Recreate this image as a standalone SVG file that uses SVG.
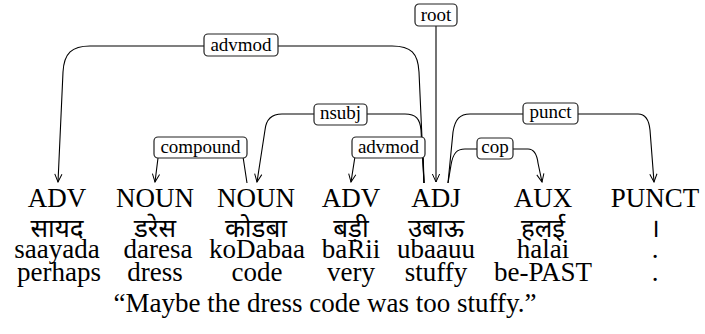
<svg xmlns="http://www.w3.org/2000/svg" width="705" height="334" viewBox="0 0 705 334">
  <defs>
    <marker id="arr" markerWidth="10" markerHeight="10" viewBox="-9 -5 10 10" refX="0" refY="0" orient="auto" markerUnits="userSpaceOnUse">
      <path d="M-8,-3.6 L0,0 L-8,3.6" fill="none" stroke="#000" stroke-width="1"/>
    </marker>
  </defs>
  <style>
    .w { font-family: "Liberation Serif", "Times New Roman", serif; font-size: 27px; fill: #000; text-anchor: middle; }
    .dev { font-family: "Noto Sans Devanagari", "Lohit Devanagari", "FreeSans", "Noto Sans", sans-serif; font-size: 26px; fill: #000; text-anchor: middle; }
    .lbl { font-family: "Liberation Serif", "Times New Roman", serif; font-size: 19px; fill: #000; text-anchor: middle; }
    .box { fill: #fff; stroke: #222; stroke-width: 1.2; }
    .edge { fill: none; stroke: #000; stroke-width: 1.1; marker-end: url(#arr); }
  </style>
  <rect width="705" height="334" fill="#fff"/>

  <!-- dependency arcs with their relation labels -->
  <g id="connectors">
    <path class="edge" d="M424,183 L419,72 C418,53 411,46 392,46 L90,46 C72,46 64,53 63,72 L58,182"/>
    <path class="edge" d="M424,183 L421,130 C420,119 416,114 405,114 L282,114 C271,114 266,120 265,130 L257,182"/>
    <path class="edge" d="M424,183 L423,150 L356,150 L351,182"/>
    <path class="edge" d="M247,183 L242,150 L159,150 L155,182"/>
    <path class="edge" d="M448,183 L451,165 C453,153 457,149 465,149 L528,149 C534,149 537,155 538,163 L542,182"/>
    <path class="edge" d="M448,183 L453,132 C455,119 460,114 470,114 L638,114 C646,114 649,120 650,130 L654,182"/>
    <path class="edge" d="M436,26 L436,182"/>

    <g id="lbl-root"><rect class="box" x="415" y="4" width="42" height="22" rx="4"/><text class="lbl" x="436" y="21">root</text></g>
    <g id="lbl-advmod1"><rect class="box" x="204" y="34" width="74" height="22" rx="4"/><text class="lbl" x="241" y="51">advmod</text></g>
    <g id="lbl-nsubj"><rect class="box" x="314" y="104" width="53" height="21" rx="4"/><text class="lbl" x="340.5" y="119">nsubj</text></g>
    <g id="lbl-punct"><rect class="box" x="523" y="103" width="55" height="21" rx="4"/><text class="lbl" x="550.5" y="118">punct</text></g>
    <g id="lbl-compound"><rect class="box" x="154" y="137" width="93" height="21" rx="4"/><text class="lbl" x="200.5" y="153">compound</text></g>
    <g id="lbl-advmod2"><rect class="box" x="352" y="137" width="73" height="21" rx="4"/><text class="lbl" x="388.5" y="153">advmod</text></g>
    <g id="lbl-cop"><rect class="box" x="477" y="138" width="36" height="21" rx="4"/><text class="lbl" x="495" y="153">cop</text></g>
  </g>

  <!-- tokens: POS tag, Devanagari form, transliteration, gloss -->
  <g id="tok1"><text class="w" x="57" y="207">ADV</text><text class="dev" x="57" y="237">सायद</text><text class="w" x="57" y="258">saayada</text><text class="w" x="59" y="281">perhaps</text></g>
  <g id="tok2"><text class="w" x="155" y="207">NOUN</text><text class="dev" x="155" y="237">डरेस</text><text class="w" x="158" y="258">daresa</text><text class="w" x="155" y="281">dress</text></g>
  <g id="tok3"><text class="w" x="256" y="207">NOUN</text><text class="dev" x="256" y="237">कोडबा</text><text class="w" x="257" y="258">koDabaa</text><text class="w" x="257" y="281">code</text></g>
  <g id="tok4"><text class="w" x="351" y="207">ADV</text><text class="dev" x="351" y="237">बड़ी</text><text class="w" x="351" y="258">baRii</text><text class="w" x="351" y="281">very</text></g>
  <g id="tok5"><text class="w" x="436" y="207">ADJ</text><text class="dev" x="436" y="237">उबाऊ</text><text class="w" x="436" y="258">ubaauu</text><text class="w" x="436" y="281">stuffy</text></g>
  <g id="tok6"><text class="w" x="543" y="207">AUX</text><text class="dev" x="543" y="237">हलई</text><text class="w" x="543" y="258">halai</text><text class="w" x="543" y="281">be-PAST</text></g>
  <g id="tok7"><text class="w" x="655" y="207">PUNCT</text><text class="dev" x="655" y="237">।</text><text class="w" x="655" y="258">.</text><text class="w" x="655" y="281">.</text></g>

  <g id="translation"><text class="w" x="325" y="312">“Maybe the dress code was too stuffy.”</text></g>
</svg>
